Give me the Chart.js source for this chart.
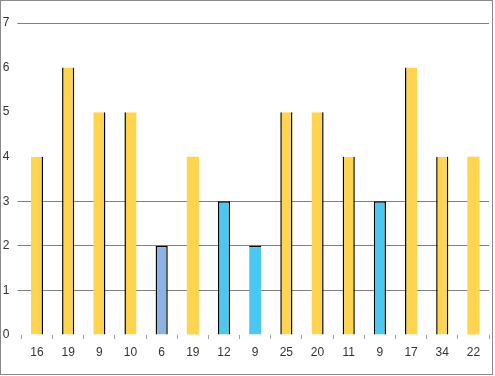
<!DOCTYPE html>
<html>
<head>
  <meta charset="UTF-8" />
  <title>Barras</title>
  <script src="https://cdn.jsdelivr.net/npm/chart.js"></script>
  <style>
    html, body { margin: 0; padding: 0; background: #fff; }
    .marco {
      width: 493px;
      height: 375px;
      box-sizing: border-box;
      border: 1px solid #8a8a8a;
    }
    canvas { display: block; }
  </style>
</head>
<body>
  <div class="marco">
    <canvas id="grafico" width="491" height="373"></canvas>
  </div>

  <script>
    // datos
    const categorias = ['16', '19', '9', '10', '6', '19', '12', '9', '25', '20', '11', '9', '17', '34', '22'];
    const valores = [4, 6, 5, 5, 2, 4, 3, 2, 5, 5, 4, 3, 6, 4, 4];
    const grupos = ['a', 'a', 'a', 'a', 'b', 'a', 'c', 'c', 'a', 'a', 'a', 'c', 'a', 'a', 'a'];
    const ticksY = [0, 1, 2, 3, 4, 5, 6, 7];

    const colores = { a: '#ffd44f', b: '#8db3e2', c: '#4bc8f2' };

    // bordes negros irregulares de cada barra
    const b = 1.5;
    const bordes = [
      { right: b }, { left: b, right: b }, { right: b }, { left: b },
      { left: b, right: b, top: b }, {}, { left: b, right: b, top: b }, { top: b },
      { left: b, right: b }, { right: b }, { left: b, right: b },
      { left: b, right: b, top: b }, { left: b }, { left: b, right: b }, {}
    ];

    const sinLinea = [0, 4, 5, 6];
    const fuente = { family: 'Liberation Sans', size: 12 };

    new Chart(document.getElementById('grafico'), {
      type: 'bar',
      data: {
        labels: categorias,
        datasets: [{
          data: valores,
          backgroundColor: grupos.map(g => colores[g]),
          borderColor: '#000',
          borderWidth: bordes,
          borderSkipped: false,
          categoryPercentage: 1,
          barPercentage: 0.39
        }]
      },
      options: {
        responsive: false,
        animation: false,
        layout: { padding: { top: 22, right: 3, left: 0, bottom: 0 } },
        plugins: {
          legend: { display: false },
          tooltip: { enabled: false }
        },
        scales: {
          x: {
            grid: {
              drawOnChartArea: false,
              tickLength: 4,
              color: '#a0a0a0'
            },
            border: { display: false },
            ticks: { color: '#333', font: fuente, padding: 6, maxRotation: 0, autoSkip: false },
            afterFit: s => { s.height = 39; }
          },
          y: {
            min: 0,
            max: 7,
            z: 1,
            afterBuildTicks: s => { s.ticks = ticksY.map(v => ({ value: v })); },
            grid: {
              tickLength: 4,
              color: c => sinLinea.includes(c.tick && c.tick.value) ? 'rgba(0,0,0,0)' : '#808080'
            },
            border: { display: false },
            ticks: { color: '#333', font: fuente, padding: 8 },
            afterFit: s => { s.width = 20.4; }
          }
        }
      }
    });
  </script>
</body>
</html>
